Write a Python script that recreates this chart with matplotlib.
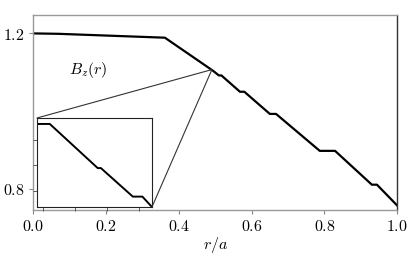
import matplotlib
matplotlib.use('Agg')
import matplotlib.pyplot as plt
from matplotlib.patches import ConnectionPatch

plt.rcParams['mathtext.fontset'] = 'cm'
plt.rcParams['font.family'] = 'serif'
plt.rcParams['font.size'] = 11.5

# field profile B_z(r)
r = [0.0, 0.069, 0.362, 0.494, 0.510, 0.517, 0.568, 0.580, 0.650, 0.667,
     0.787, 0.829, 0.930, 0.944, 1.0]
bz = [1.200, 1.199, 1.189, 1.104, 1.092, 1.092, 1.050, 1.050, 0.993, 0.993,
      0.898, 0.898, 0.811, 0.811, 0.757]

# zoomed piece shown in the inset
inset_r = [0.4898, 0.4902, 0.4917, 0.4918, 0.4928, 0.4931, 0.4934]
inset_bz = [1.1066, 1.1066, 1.1049, 1.1049, 1.1038, 1.1038, 1.1034]
inset_xticks = [0.490, 0.491, 0.492, 0.493]
inset_yticks = [1.104, 1.105, 1.106]
zoom_r, zoom_bz = 0.491, 1.107

xticks = [0.0, 0.2, 0.4, 0.6, 0.8, 1.0]
yticks = [0.8, 1.2]

fig = plt.figure(figsize=(4.15, 2.57), dpi=100)
ax = fig.add_axes([0.0795, 0.183, 0.878, 0.759])
ax.plot(r, bz, color='black', lw=1.6)
ax.set_xlim(0, 1.0)
ax.set_ylim(0.746, 1.2476)
ax.set_xticks(xticks)
ax.set_xticklabels([f'${t:.1f}$' for t in xticks])
ax.set_yticks(yticks)
ax.set_yticklabels([f'${t:.1f}$' for t in yticks])
ax.tick_params(direction='out', length=3, width=0.8, color='#888888', pad=3)
for s in ['left', 'top', 'bottom']:
    ax.spines[s].set_color('#999999')
ax.spines['right'].set_color('#333333')
for s in ax.spines.values():
    s.set_linewidth(1.0)
ax.set_xlabel(r'$r/a$', labelpad=0)
ax.text(0.10, 1.106, r'$B_z(r)$', va='center', ha='left')

# inset
axin = fig.add_axes([0.0892, 0.1946, 0.277, 0.3463])
axin.plot(inset_r, inset_bz, color='black', lw=1.4)
axin.set_xlim(0.4898, 0.4934)
axin.set_ylim(1.1034, 1.10683)
axin.set_xticks(inset_xticks)
axin.set_yticks(inset_yticks)
axin.set_xticklabels([])
axin.set_yticklabels([])
axin.tick_params(direction='out', length=3, width=0.6, color='#444444')
for s in axin.spines.values():
    s.set_linewidth(0.8)
    s.set_color('#222222')

for corner in [(0, 1), (1, 0)]:
    con = ConnectionPatch(xyA=corner, coordsA=axin.transAxes,
                          xyB=(zoom_r, zoom_bz), coordsB=ax.transData,
                          color='#333333', lw=0.8)
    fig.add_artist(con)

fig.savefig('out.png', dpi=100)
